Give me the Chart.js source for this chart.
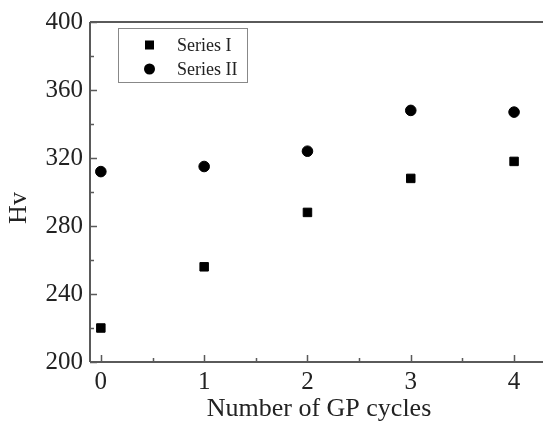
<!DOCTYPE html>
<html>
<head>
<meta charset="utf-8">
<script src="https://cdn.jsdelivr.net/npm/chart.js@4/dist/chart.umd.min.js"></script>
<style>
  html, body { margin: 0; padding: 0; background: #fff; overflow: hidden; }
  #wrap { width: 550px; height: 441px; }
</style>
</head>
<body>
<div id="wrap"><canvas id="c" width="550" height="441"></canvas></div>
<script>
// GP cycle counts and hardness values
const cycles = [0, 1, 2, 3, 4];
const seriesI = [220, 256, 288, 308, 318];
const seriesII = [312, 315, 324, 348, 347];
const seriesNames = ['Series I', 'Series II'];
const xTicks = [0, 1, 2, 3, 4];
const yTicks = [200, 240, 280, 320, 360, 400];
const xTitle = 'Number of GP cycles';
const yTitle = 'Hv';

const FONT = '"Liberation Serif", "Times New Roman", serif';
const AXIS = '#5a5a5a';

// Axis frame, inward ticks, titles and legend box
const framePlugin = {
  id: 'frame',
  afterDraw(chart) {
    const { ctx, chartArea: a, scales: { x, y } } = chart;
    ctx.save();
    ctx.strokeStyle = AXIS;
    ctx.lineWidth = 2;
    ctx.beginPath();
    ctx.moveTo(a.left, a.top); ctx.lineTo(a.right, a.top);
    ctx.moveTo(a.left, a.top); ctx.lineTo(a.left, a.bottom);
    ctx.moveTo(a.left, a.bottom); ctx.lineTo(a.right, a.bottom);
    ctx.stroke();

    ctx.lineWidth = 1.5;
    ctx.beginPath();
    xTicks.forEach((v, i) => {
      const px = Math.round(x.getPixelForValue(v)) + 0.5;
      ctx.moveTo(px, a.bottom); ctx.lineTo(px, a.bottom - 7);
      if (i < xTicks.length - 1) {
        const mx = Math.round(x.getPixelForValue((v + xTicks[i + 1]) / 2)) + 0.5;
        ctx.moveTo(mx, a.bottom); ctx.lineTo(mx, a.bottom - 4);
      }
    });
    yTicks.forEach((v, i) => {
      const py = Math.round(y.getPixelForValue(v)) + 0.5;
      ctx.moveTo(a.left, py); ctx.lineTo(a.left + 7, py);
      if (i < yTicks.length - 1) {
        const my = Math.round(y.getPixelForValue((v + yTicks[i + 1]) / 2)) + 0.5;
        ctx.moveTo(a.left, my); ctx.lineTo(a.left + 4, my);
      }
    });
    ctx.stroke();

    // axis titles
    ctx.fillStyle = '#222';
    ctx.font = '26px ' + FONT;
    ctx.textAlign = 'center';
    ctx.textBaseline = 'alphabetic';
    ctx.fillText(xTitle, 319, 416);
    ctx.save();
    ctx.translate(26, 208);
    ctx.rotate(-Math.PI / 2);
    ctx.fillText(yTitle, 0, 0);
    ctx.restore();

    // legend
    ctx.strokeStyle = '#888';
    ctx.lineWidth = 1;
    ctx.strokeRect(118.5, 28.5, 129, 54);
    ctx.fillStyle = '#000';
    ctx.fillRect(145, 40.5, 9, 9);
    ctx.beginPath();
    ctx.arc(149.5, 69, 5.5, 0, Math.PI * 2);
    ctx.fill();
    ctx.fillStyle = '#222';
    ctx.font = '18px ' + FONT;
    ctx.textAlign = 'left';
    ctx.textBaseline = 'middle';
    ctx.fillText(seriesNames[0], 177, 46);
    ctx.fillText(seriesNames[1], 177, 70);
    ctx.restore();
  }
};

new Chart(document.getElementById('c'), {
  type: 'scatter',
  data: {
    datasets: [
      {
        label: seriesNames[0],
        data: cycles.map((c, i) => ({ x: c, y: seriesI[i] })),
        pointStyle: 'rect',
        pointRadius: 6,
        pointBorderWidth: 1,
        backgroundColor: '#000',
        borderColor: '#000'
      },
      {
        label: seriesNames[1],
        data: cycles.map((c, i) => ({ x: c, y: seriesII[i] })),
        pointStyle: 'circle',
        pointRadius: 5.3,
        pointBorderWidth: 1,
        backgroundColor: '#000',
        borderColor: '#000'
      }
    ]
  },
  options: {
    responsive: false,
    animation: false,
    layout: { padding: { left: 0, top: 18, right: 0, bottom: 0 } },
    plugins: { legend: { display: false }, tooltip: { enabled: false } },
    scales: {
      x: {
        type: 'linear',
        min: -0.105,
        max: 4.28,
        afterFit(s) { s.height = 79; },
        afterBuildTicks(s) { s.ticks = xTicks.map(v => ({ value: v })); },
        grid: { display: false, drawTicks: false },
        border: { display: false },
        ticks: { color: '#222', padding: 5, font: { family: FONT, size: 25 }, maxRotation: 0 }
      },
      y: {
        min: 200,
        max: 400,
        afterFit(s) { s.width = 90; },
        afterBuildTicks(s) { s.ticks = yTicks.map(v => ({ value: v })); },
        grid: { display: false, drawTicks: false },
        border: { display: false },
        ticks: { color: '#222', padding: 7, font: { family: FONT, size: 25 } }
      }
    }
  },
  plugins: [framePlugin]
});
</script>
</body>
</html>
